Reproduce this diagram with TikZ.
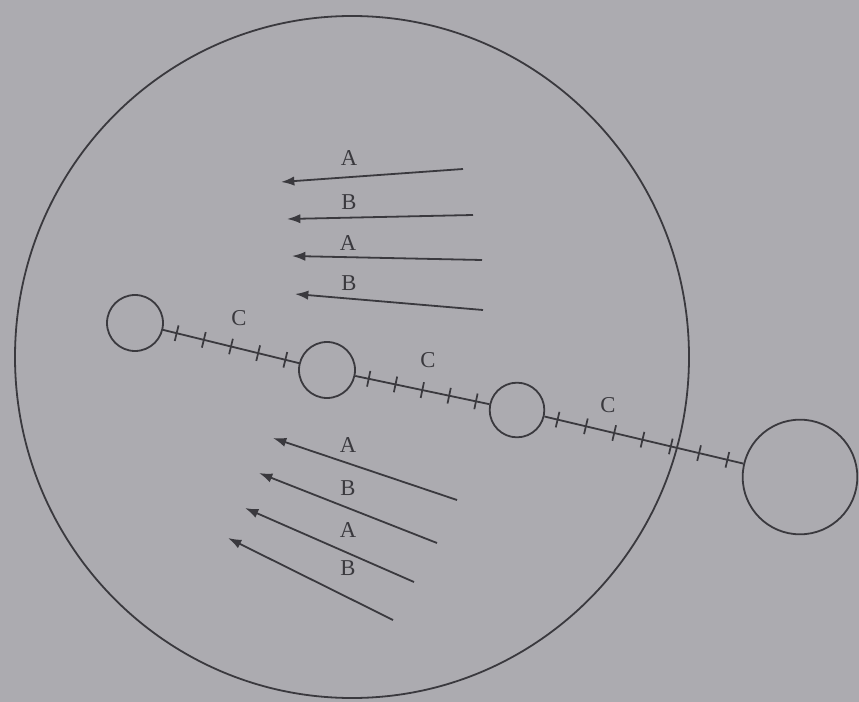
\documentclass[tikz,border=0pt]{standalone}
\usepackage{fontspec}
\setmainfont{Liberation Serif}
\usetikzlibrary{arrows.meta,decorations.markings}
\definecolor{paper}{RGB}{172,171,176}
\definecolor{ink}{RGB}{58,57,62}
\begin{document}
\begin{tikzpicture}[x=0.75pt,y=-0.75pt,
  ring/.style={circle, draw=ink, line width=1.35pt, inner sep=0pt},
  lbl/.style={text=ink, font=\fontsize{17}{17}\selectfont, inner sep=0pt},
  ray/.style={draw=ink, line width=1.35pt, -{Latex[length=10pt,width=7pt]}},
  link/.style={draw=ink, line width=1.35pt},
  tickfive/.style={postaction=decorate, decoration={markings,
     mark=between positions 0.1 and 0.91 step 0.2 with {\draw[ink,line width=1.3pt] (0,-6pt)--(0,6pt);}}},
  tickseven/.style={postaction=decorate, decoration={markings,
     mark=between positions 0.066 and 0.92 step 0.1423 with {\draw[ink,line width=1.3pt] (0,-6pt)--(0,6pt);}}}
]
\fill[paper] (0,0) rectangle (859,702);
\useasboundingbox (0,0) rectangle (859,702);

% cell outline
\draw[ink, line width=1.35pt] (352,357) ellipse [x radius=252.75pt, y radius=255.75pt];

% small circles
\node[ring, minimum size=42pt] (c1) at (135,323) {};
\node[ring, minimum size=42pt] (c2) at (327,370) {};
\node[ring, minimum size=41pt] (c3) at (517,410) {};
\node[ring, minimum size=86pt] (c4) at (800,477) {};

% tick-marked links
\draw[link, tickfive] (c1) -- (c2);
\draw[link, tickfive] (c2) -- (c3);
\draw[link, tickseven] (c3) -- (c4);

\node[lbl] (lc1) at (239,318) {C};
\node[lbl] (lc2) at (428,360) {C};
\node[lbl] (lc3) at (608,405) {C};

% upper arrows
\coordinate (t1) at (463,169); \coordinate (h1) at (281,182);
\coordinate (t2) at (473,215); \coordinate (h2) at (287,219);
\coordinate (t3) at (482,260); \coordinate (h3) at (292,256);
\coordinate (t4) at (483,310); \coordinate (h4) at (295,294);
\draw[ray] (t1) -- (h1);
\draw[ray] (t2) -- (h2);
\draw[ray] (t3) -- (h3);
\draw[ray] (t4) -- (h4);
\node[lbl] (la1) at (349,158) {A};
\node[lbl] (lb1) at (349,202) {B};
\node[lbl] (la2) at (348,243) {A};
\node[lbl] (lb2) at (349,283) {B};

% lower arrows
\coordinate (t5) at (457,500); \coordinate (h5) at (273,438);
\coordinate (t6) at (437,543); \coordinate (h6) at (259,473);
\coordinate (t7) at (414,582); \coordinate (h7) at (245,508);
\coordinate (t8) at (393,620); \coordinate (h8) at (228,538);
\draw[ray] (t5) -- (h5);
\draw[ray] (t6) -- (h6);
\draw[ray] (t7) -- (h7);
\draw[ray] (t8) -- (h8);
\node[lbl] (la3) at (348,445) {A};
\node[lbl] (lb3) at (348,488) {B};
\node[lbl] (la4) at (348,530) {A};
\node[lbl] (lb4) at (348,568) {B};
\end{tikzpicture}
\end{document}
